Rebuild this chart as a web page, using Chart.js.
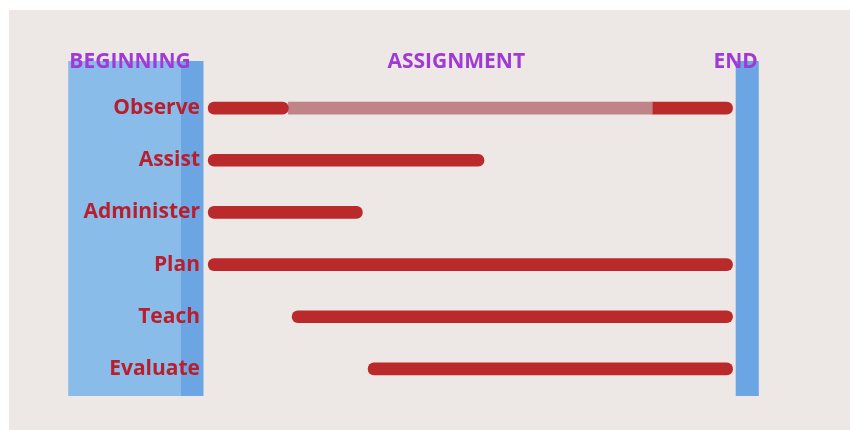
<!DOCTYPE html>
<html>
<head>
<meta charset="utf-8">
<script src="https://cdn.jsdelivr.net/npm/chart.js@4"></script>
<style>
  html, body { margin: 0; padding: 0; background: #fff; }
  #wrap { width: 850px; height: 430px; }
</style>
</head>
<body>
<div id="wrap"><canvas id="phases"></canvas></div>
<script>
// 时间轴：0 = 学期开始，100 = 结束
const tasks = ['Observe', 'Assist', 'Administer', 'Plan', 'Teach', 'Evaluate'];
const activeSpans = [[0, 15.3], [0, 52.6], [0, 29.4], [0, 100], [16, 100], [30.5, 100]];
const observeLate = [84.7, 100];
const observeFaded = [15.3, 84.7];
const phaseNames = ['BEGINNING', 'ASSIGNMENT', 'END'];
const phaseAt = [-14.9, 47.3, 100.6];

const RED = '#bb2a2b';

// 背景面板 + 蓝色区块（按坐标轴换算）
const backdrop = {
  id: 'backdrop',
  beforeDraw(chart) {
    const {ctx, scales: {x, y}} = chart;
    ctx.save();
    ctx.fillStyle = '#ede7e5';
    ctx.fillRect(9, 10, 841, 420);
    const top = 61, bottom = y.getPixelForValue(5.5) + 1;
    ctx.fillStyle = '#89bce8';
    ctx.fillRect(x.getPixelForValue(-26.7), top, x.getPixelForValue(-5.2) - x.getPixelForValue(-26.7), bottom - top);
    ctx.fillStyle = '#6ba5e3';
    ctx.fillRect(x.getPixelForValue(-5.2), top, x.getPixelForValue(-0.9) - x.getPixelForValue(-5.2), bottom - top);
    ctx.fillRect(x.getPixelForValue(100.6), top, x.getPixelForValue(105) - x.getPixelForValue(100.6), bottom - top);
    ctx.restore();
  },
  afterDraw(chart) {
    const {ctx, scales: {x}} = chart;
    ctx.save();
    ctx.font = 'bold 21px "Open Sans"';
    ctx.fillStyle = '#a03ad6';
    ctx.textAlign = 'center';
    ctx.textBaseline = 'middle';
    phaseNames.forEach((t, i) => ctx.fillText(t, x.getPixelForValue(phaseAt[i]), 62));
    ctx.restore();
  }
};

new Chart(document.getElementById('phases'), {
  type: 'bar',
  data: {
    labels: tasks,
    datasets: [
      {
        data: activeSpans,
        backgroundColor: RED,
        borderRadius: {topLeft: 6, bottomLeft: 6, topRight: 6, bottomRight: 6},
        borderSkipped: false
      },
      {
        data: [observeFaded, null, null, null, null, null],
        backgroundColor: '#c08387',
        borderSkipped: false
      },
      {
        data: [observeLate, null, null, null, null, null],
        backgroundColor: RED,
        borderRadius: {topRight: 6, bottomRight: 6},
        borderSkipped: false
      }
    ]
  },
  options: {
    indexAxis: 'y',
    responsive: true,
    maintainAspectRatio: false,
    animation: false,
    grouped: false,
    barThickness: 12,
    layout: {padding: {top: 82, bottom: 35, left: 0, right: 65}},
    scales: {
      x: {display: false, min: -0.8, max: 110},
      y: {
        afterFit: s => { s.width = 204; },
        grid: {display: false, drawTicks: false},
        border: {display: false},
        ticks: {
          padding: 4,
          color: '#b81f2e',
          font: {family: '"Open Sans"', size: 21, weight: 'bold'}
        }
      }
    },
    plugins: {
      legend: {display: false},
      tooltip: {enabled: false}
    }
  },
  plugins: [backdrop]
});
</script>
</body>
</html>
